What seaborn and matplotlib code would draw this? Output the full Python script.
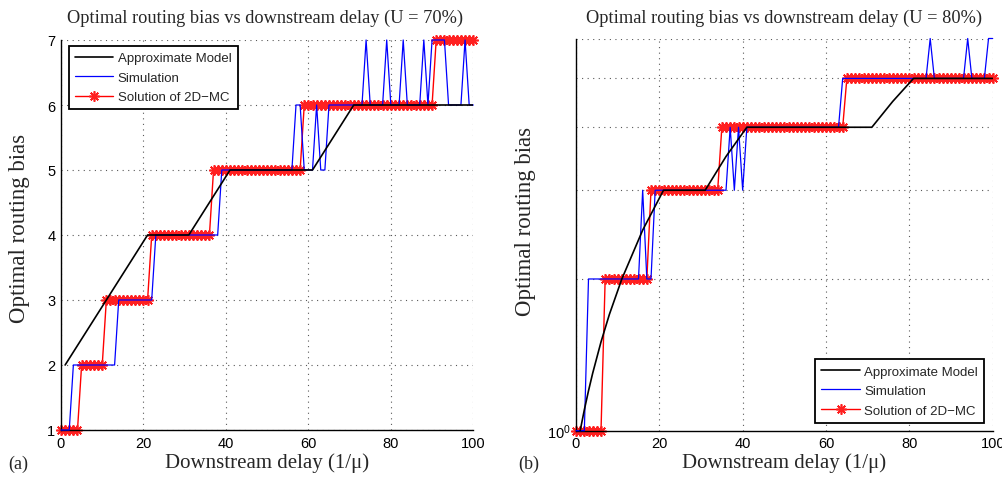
import numpy as np
import pandas as pd
import matplotlib
matplotlib.use("Agg")
import matplotlib.pyplot as plt
from matplotlib.ticker import FixedLocator, NullFormatter, MultipleLocator
import seaborn as sns

# ---- data ---------------------------------------------------------------
delay = list(range(0, 101))

# U = 70% : step levels and run lengths along delay = 0..100
sim70_levels = [1, 2, 3, 4, 5, 6, 5, 6, 5, 6, 7, 6, 7, 6, 7, 6, 7, 6, 7, 6, 7, 6]
sim70_runs   = [3, 11, 9, 16, 18, 2, 3, 1, 2, 9, 1, 4, 1, 3, 1, 4, 1, 1, 4, 4, 1, 2]
mc70_levels  = [1, 2, 3, 4, 5, 6, 7]
mc70_runs    = [5, 6, 11, 15, 22, 32, 10]
model70_x = [1, 21, 31, 41, 61, 71, 100]
model70_y = [2, 4, 4, 5, 5, 6, 6]

# U = 80%
sim80_levels = [1, 2, 3, 2, 3, 4, 3, 4, 3, 4, 5, 6, 5, 6, 5, 6]
sim80_runs   = [3, 13, 1, 2, 18, 1, 1, 1, 1, 23, 21, 1, 8, 1, 4, 2]
mc80_levels  = [1, 2, 3, 4, 5]
mc80_runs    = [7, 11, 17, 30, 36]
model80_x = [1, 2, 3, 4, 6, 8, 11, 16, 21, 31, 36, 41, 71, 76, 81, 100]
model80_y = [1, 1.1, 1.2, 1.3, 1.5, 1.7, 2, 2.5, 3, 3, 3.5, 4, 4, 4.5, 5, 5]

labels = ["Approximate Model", "Simulation", "Solution of 2D\u2212MC"]
titles = ["Optimal routing bias vs downstream delay (U = 70%)",
          "Optimal routing bias vs downstream delay (U = 80%)"]


def steps(levels, runs):
    return np.repeat(levels, runs)


# ---- style --------------------------------------------------------------
sns.set_style("white")
plt.rcParams["font.family"] = ["Liberation Sans", "DejaVu Sans"]
plt.rcParams["mathtext.default"] = "regular"
SERIF = ["Liberation Serif", "DejaVu Serif"]

fig = plt.figure(figsize=(10.03, 4.89), dpi=100)
W, H = 1003, 489
ax1 = fig.add_axes([61 / W, 1 - 431 / H, (473.3 - 61) / W, (431 - 41) / H])
ax2 = fig.add_axes([576 / W, 1 - 431.7 / H, (992.7 - 576) / W, (431.7 - 39.5) / H])

panels = [
    (ax1, model70_x, model70_y, steps(sim70_levels, sim70_runs), steps(mc70_levels, mc70_runs)),
    (ax2, model80_x, model80_y, steps(sim80_levels, sim80_runs), steps(mc80_levels, mc80_runs)),
]

for ax, mx, my, sim, mc in panels:
    sns.lineplot(x=delay, y=mc, ax=ax, color="#ff0000", lw=1.0, marker=(8, 2, 0),
                 markersize=7.5, markeredgewidth=1.2, markeredgecolor="#ff2020",
                 estimator=None, sort=False, zorder=2, clip_on=False, label=labels[2])
    sns.lineplot(x=delay, y=sim, ax=ax, color="#0000ff", lw=0.9,
                 estimator=None, sort=False, zorder=3, clip_on=False, label=labels[1])
    sns.lineplot(x=mx, y=my, ax=ax, color="black", lw=1.2,
                 estimator=None, sort=False, zorder=4, label=labels[0])

# ---- axes formatting ----------------------------------------------------
grid_kw = dict(color="0.35", linestyle=(0, (1, 4)), linewidth=0.8)

for ax in (ax1, ax2):
    ax.set_xlim(0, 100)
    ax.xaxis.set_major_locator(FixedLocator([0, 20, 40, 60, 80, 100]))
    ax.xaxis.set_minor_locator(MultipleLocator(2))
    for s in ("top", "right"):
        ax.spines[s].set_visible(False)
    for s in ("left", "bottom"):
        ax.spines[s].set_color("black")
        ax.spines[s].set_linewidth(1.0)
    ax.tick_params(which="major", direction="in", length=4, width=0.9, colors="black",
                   labelsize=10.5, pad=4)
    ax.tick_params(which="minor", direction="in", length=2, width=0.6, colors="black")
    ax.xaxis.grid(True, which="major", **grid_kw)
    ax.set_xlabel("Downstream delay (1/\u03bc)", fontsize=15, family=SERIF)
    ax.set_ylabel("Optimal routing bias", fontsize=16.5, family=SERIF)
    ax.xaxis.label.set_va("center")
    ax.yaxis.label.set_va("center")

ax1.set_ylim(1, 7)
ax1.yaxis.set_major_locator(FixedLocator([1, 2, 3, 4, 5, 6, 7]))
ax1.yaxis.set_minor_locator(MultipleLocator(0.2))
ax1.yaxis.grid(True, which="major", **grid_kw)
ax1.xaxis.set_label_coords(0.5, -0.082)
ax1.yaxis.set_label_coords(-0.1, 0.52)

ax2.set_yscale("log")
ax2.set_ylim(1, 6)
ax2.yaxis.set_major_locator(FixedLocator([1]))
ax2.yaxis.set_major_formatter(plt.FuncFormatter(lambda v, p: "$10^0$"))
ax2.yaxis.set_minor_locator(FixedLocator([2, 3, 4, 5, 6]))
ax2.yaxis.set_minor_formatter(NullFormatter())
ax2.yaxis.grid(True, which="minor", **grid_kw)
ax2.xaxis.set_label_coords(0.5, -0.08)
ax2.yaxis.set_label_coords(-0.12, 0.537)

# titles and panel tags
fig.text(265 / W, 1 - 18 / H, titles[0], ha="center", va="center", fontsize=13.2, family=SERIF)
fig.text(784 / W, 1 - 18 / H, titles[1], ha="center", va="center", fontsize=13.2, family=SERIF)
fig.text(8 / W, 1 - 464 / H, "(a)", ha="left", va="center", fontsize=13, family=SERIF)
fig.text(518 / W, 1 - 464 / H, "(b)", ha="left", va="center", fontsize=13, family=SERIF)

# legends: order Approximate Model, Simulation, Solution of 2D-MC
for ax, loc, anchor in ((ax1, "upper left", (69 / W, 1 - 47 / H)),
                        (ax2, "lower right", (984 / W, 1 - 423.5 / H))):
    handles, labs = ax.get_legend_handles_labels()
    order = [labs.index(l) for l in labels]
    leg = ax.legend([handles[i] for i in order], [labs[i] for i in order],
                    loc=loc, bbox_to_anchor=anchor, bbox_transform=fig.transFigure,
                    fontsize=9.5, frameon=True, fancybox=False, framealpha=1,
                    edgecolor="black", borderpad=0.45, labelspacing=0.55,
                    handlelength=2.9, handletextpad=0.35, borderaxespad=0)
    leg.get_frame().set_linewidth(1.3)
    for h in leg.legend_handles:
        if h.get_color() == "#ff0000":
            h.set_markevery([1])

fig.savefig("out.png", dpi=100)
